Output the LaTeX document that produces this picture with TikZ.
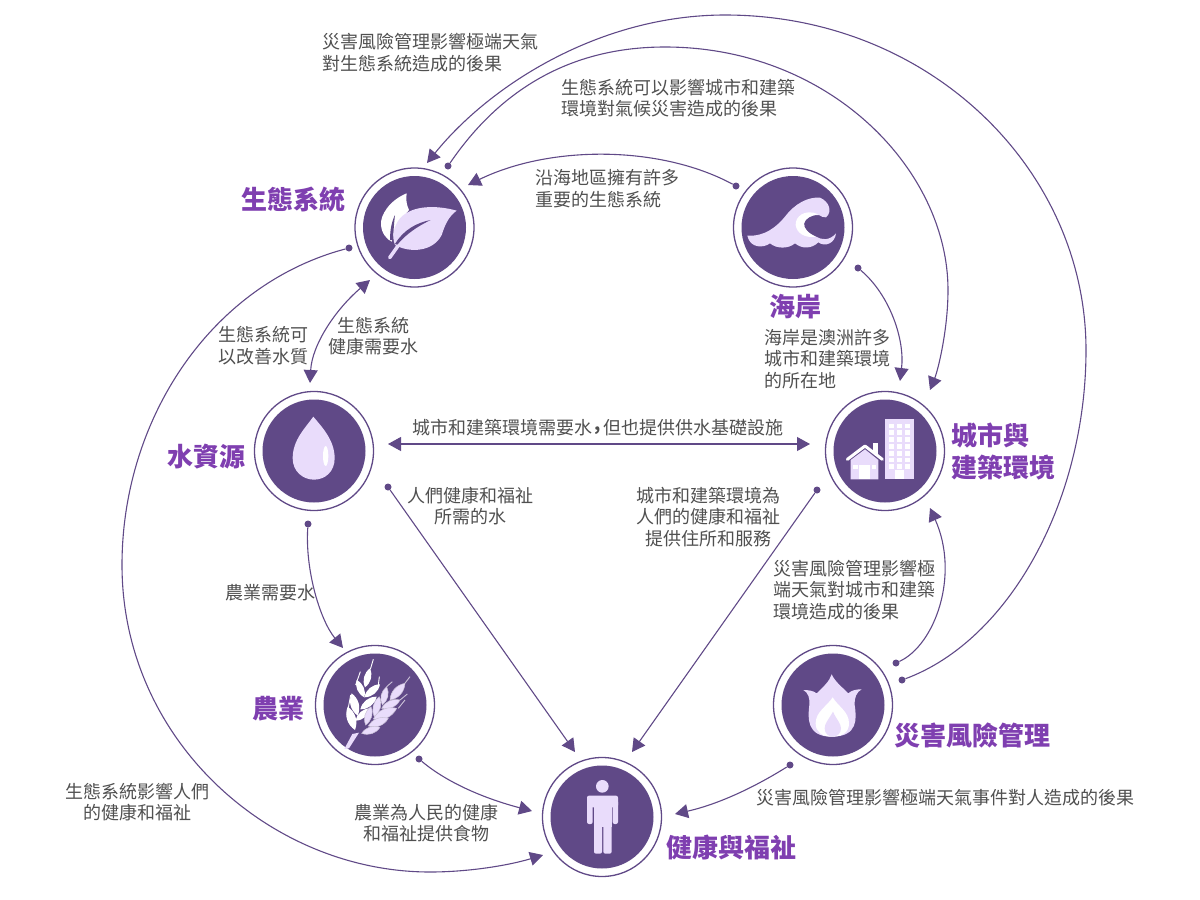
\documentclass[tikz,border=0pt]{standalone}
\usepackage{fontspec}
\setmainfont{Noto Sans CJK TC}
\usetikzlibrary{arrows.meta}

\definecolor{plum}{HTML}{604987}
\definecolor{pale}{HTML}{E9DCFB}
\definecolor{titlec}{HTML}{7F3FB0}
\definecolor{textc}{HTML}{505050}

\tikzset{
main node/.style={circle,draw=plum,line width=1.3pt,fill=white,inner sep=0pt,minimum size=119pt,
	path picture={\fill[plum] (path picture bounding box.center) circle (51.5pt);}},
dot node/.style={circle,fill=plum,inner sep=0pt,minimum size=7pt},
link/.style={draw=plum,line width=1.1pt,-{Triangle[length=13pt,width=14pt]}},
both link/.style={draw=plum,line width=1.1pt,{Triangle[length=13pt,width=14pt]}-{Triangle[length=13pt,width=14pt]}},
note/.style={text=textc,font=\fontsize{18}{21.7}\selectfont,inner sep=0pt},
title/.style={text=titlec,font=\fontsize{26}{32}\selectfont\bfseries,inner sep=0pt},
icon/.style={shift={#1},scale=1/3},
}

\begin{document}
\begin{tikzpicture}[x=1pt,y=-1pt]
\useasboundingbox (0,0) rectangle (1200,900);

% main circles
\node[main node] (eco) at (414.5,227.5) {};
\node[main node] (coast) at (793,227.5) {};
\node[main node] (water) at (314,451) {};
\node[main node] (city) at (885,451) {};
\node[main node] (farm) at (375,705) {};
\node[main node] (risk) at (833,705) {};
\node[main node] (health) at (602,817) {};

% leaf
\begin{scope}[icon={(340,150)}]
\fill[white] (200,130) .. controls (150,150) and (120,195) .. (123,225) .. controls (125,250) and (140,268) .. (155,275) .. controls (165,240) and (185,205) .. (207,180) .. controls (200,165) and (197,150) .. (200,130);
\fill[plum] (150,270) .. controls (150,240) and (155,215) .. (165,195) .. controls (162,220) and (160,245) .. (160,270);
\fill[pale] (350,182) .. controls (290,165) and (215,165) .. (180,205) .. controls (160,230) and (155,260) .. (165,285) .. controls (210,310) and (280,305) .. (305,255) .. controls (315,225) and (325,200) .. (350,182);
\draw[pale,line width=3.5pt,line cap=round] (149,323) -- (185,272);
\fill[plum] (165,282) .. controls (190,240) and (230,218) .. (272,210) .. controls (235,228) and (200,250) .. (172,284);
\end{scope}

% wave
\begin{scope}[icon={(740,185)}]
\fill[pale] (22,152) .. controls (75,155) and (110,125) .. (135,95) .. controls (165,55) and (205,35) .. (240,38) .. controls (268,50) and (278,80) .. (258,97) .. controls (250,100) and (243,92) .. (237,90) .. controls (215,88) and (195,100) .. (192,115) .. controls (190,130) and (205,148) .. (228,155) .. controls (245,165) and (268,168) .. (288,145) .. controls (285,175) and (255,187) .. (235,172) .. controls (215,192) and (185,192) .. (165,175) .. controls (145,192) and (110,192) .. (90,175) .. controls (70,190) and (30,190) .. (22,152);
\fill[white] (235,88) .. controls (195,70) and (165,95) .. (167,120) .. controls (170,145) and (195,160) .. (228,155) .. controls (205,145) and (190,130) .. (192,115) .. controls (195,100) and (215,90) .. (235,88);
\end{scope}

% drop
\begin{scope}[icon={(240,380)}]
\fill[pale] (220,110) .. controls (195,145) and (158,180) .. (158,235) .. controls (158,275) and (190,299) .. (222,299) .. controls (255,299) and (284,275) .. (284,235) .. controls (284,180) and (245,140) .. (220,110);
\fill[white] (257,228) ellipse (8 and 30);
\end{scope}

% buildings
\begin{scope}[icon={(815,380)}]
\fill[pale] (210,117) rectangle (297,298);
\foreach \x in {221,245,269} \foreach \y in {131,151,171,192,213,233,253}
	\fill[white] (\x,\y) rectangle +(16,14);
\fill[white] (240,270) rectangle (268,298);
\fill[pale] (107,240) -- (150,208) -- (190,240) -- (190,298) -- (107,298) -- cycle;
\fill[white] (174,190) rectangle (188,222);
\draw[white,line width=3pt,line join=round,line cap=round] (97,238) -- (150,198) -- (202,238);
\fill[white] (132,255) rectangle (165,298);
\fill[white] (115,254) rectangle (128,266);
\fill[white] (170,254) rectangle (183,266);
\end{scope}

% wheat
\begin{scope}[icon={(335,650)}]
\draw[white,line width=.9pt] (115,28) -- (106,58) (76,65) -- (62,105) (133,80) -- (130,105) (47,135) -- (36,195);
\foreach \xa/\ya/\xb/\yb in {105/55/90/112, 65/90/88/142, 135/103/88/142, 50/130/68/197, 125/140/76/178, 38/170/60/240, 105/175/62/212}
	\fill[white] (\xa,\ya) to[bend left=38] (\xb,\yb) to[bend left=38] (\xa,\ya);
\fill[pale] (28,297) -- (52,252) -- (72,248) -- (42,295) -- cycle;
\draw[pale!70!gray,line width=.9pt] (225,80) -- (208,102) (172,95) -- (155,110) (217,132) -- (195,150) (190,175) -- (210,150);
\foreach \xa/\ya/\xb/\yb in {210/100/165/150, 155/110/142/165, 133/140/118/200, 108/170/92/225, 195/150/140/175, 185/175/115/207, 160/205/100/228, 135/232/80/250}
	\filldraw[fill=pale,draw=pale!70!gray,line width=.5pt] (\xa,\ya) to[bend left=38] (\xb,\yb) to[bend left=38] (\xa,\ya);
\end{scope}

% flame
\begin{scope}[icon={(760,640)}]
\fill[pale] (215,103) .. controls (225,125) and (245,140) .. (265,160) .. controls (275,150) and (290,148) .. (305,148) .. controls (290,155) and (282,175) .. (284,195) .. controls (290,235) and (295,290) .. (215,290) .. controls (140,290) and (143,235) .. (148,195) .. controls (150,175) and (145,158) .. (130,150) .. controls (145,150) and (160,152) .. (170,160) .. controls (190,140) and (208,125) .. (215,103);
\fill[white] (218,172) .. controls (200,200) and (167,215) .. (167,250) .. controls (167,275) and (185,290) .. (215,290) .. controls (250,290) and (267,275) .. (267,250) .. controls (267,215) and (235,200) .. (218,172);
\fill[pale] (219,215) .. controls (205,240) and (194,250) .. (194,265) .. controls (194,280) and (205,290) .. (218,290) .. controls (232,290) and (243,280) .. (243,265) .. controls (243,250) and (230,240) .. (219,215);
\end{scope}

% person
\begin{scope}[icon={(530,750)}]
\fill[pale] (217,109) circle (19);
\begin{scope}[rounded corners=2pt]
\fill[pale] (171,137) rectangle (264,172);
\fill[pale] (171,150) rectangle (188,222);
\fill[pale] (248,150) rectangle (264,222);
\fill[pale] (192,200) rectangle (216,311);
\fill[pale] (220,200) rectangle (245,311);
\end{scope}
\fill[pale] (192,150) rectangle (245,232);
\end{scope}

% connector ends
\node[dot node] (riskA) at (902,680) {};
\node[dot node] (riskB) at (896,663) {};
\node[dot node] (riskC) at (790,765) {};
\node[dot node] (ecoA) at (448,166) {};
\node[dot node] (ecoB) at (349,248) {};
\node[dot node] (coastA) at (736,186) {};
\node[dot node] (coastB) at (858,268) {};
\node[dot node] (waterA) at (388,487) {};
\node[dot node] (waterB) at (308,524) {};
\node[dot node] (cityA) at (817,490) {};
\node[dot node] (farmA) at (419,759) {};
\coordinate (ecoIn1) at (427,163);
\coordinate (ecoIn2) at (468,185);
\coordinate (ecoIn3) at (370,280);
\coordinate (waterIn1) at (310,383);
\coordinate (waterIn2) at (388,444);
\coordinate (cityIn1) at (930,390);
\coordinate (cityIn2) at (900,381);
\coordinate (cityIn3) at (810,444);
\coordinate (cityIn4) at (930,508);
\coordinate (farmIn) at (343,648);
\coordinate (healthIn1) at (575,752);
\coordinate (healthIn2) at (632,752);
\coordinate (healthIn3) at (532,811);
\coordinate (healthIn4) at (675,814);
\coordinate (healthIn5) at (543,855);

% connectors
\draw[link] (riskA) .. controls (1010,640) and (1086,500) .. (1086,350) .. controls (1086,170) and (930,15) .. (725,15) .. controls (600,15) and (490,85) .. (ecoIn1);
\draw[link] (ecoA) .. controls (500,90) and (570,47) .. (665,47) .. controls (830,47) and (948,170) .. (948,290) .. controls (948,330) and (938,370) .. (cityIn1);
\draw[link] (coastA) .. controls (660,145) and (550,145) .. (ecoIn2);
\draw[link] (coastB) .. controls (890,295) and (905,340) .. (cityIn2);
\draw[link] (ecoB) .. controls (210,285) and (122,420) .. (122,565) .. controls (122,740) and (270,872) .. (430,872) .. controls (470,872) and (510,865) .. (healthIn5);
\draw[both link] (ecoIn3) .. controls (335,310) and (312,345) .. (waterIn1);
\draw[both link] (waterIn2) -- (cityIn3);
\draw[link] (waterA) -- (healthIn1);
\draw[link] (cityA) -- (healthIn2);
\draw[link] (waterB) .. controls (305,570) and (320,620) .. (farmIn);
\draw[link] (farmA) .. controls (450,785) and (490,800) .. (healthIn3);
\draw[link] (riskC) .. controls (750,790) and (715,805) .. (healthIn4);
\draw[link] (riskB) .. controls (935,645) and (960,575) .. (cityIn4);

% titles
\node[title] (ecoT) at (293,200) {生態系統};
\node[title] (coastT) at (795,307) {海岸};
\node[title] (waterT) at (206,457) {水資源};
\node[title,anchor=west,align=left] (cityT) at (951,451) {城市與\\建築環境};
\node[title] (farmT) at (278,709) {農業};
\node[title] (riskT) at (972,735) {災害風險管理};
\node[title] (healthT) at (731,848) {健康與福祉};

% labels
\node[note,anchor=west,align=left] (n1) at (322,52.5) {災害風險管理影響極端天氣\\對生態系統造成的後果};
\node[note,anchor=west,align=left] (n2) at (561,98) {生態系統可以影響城市和建築\\環境對氣候災害造成的後果};
\node[note,anchor=west,align=left] (n3) at (535,189) {沿海地區擁有許多\\重要的生態系統};
\node[note,anchor=west,align=left] (n4) at (764,359) {海岸是澳洲許多\\城市和建築環境\\的所在地};
\node[note,anchor=west,align=left] (n5) at (218,346) {生態系統可\\以改善水質};
\node[note,align=center] (n6) at (373,336) {生態系統\\健康需要水};
\node[note] (n7) at (598,428) {城市和建築環境需要水\hspace{2.5pt}\raisebox{4pt}{\bfseries ,}\hspace{2.5pt}但也提供供水基礎設施};
\node[note,align=center] (n8) at (470,506) {人們健康和福祉\\所需的水};
\node[note,align=center] (n9) at (708,517) {城市和建築環境為\\人們的健康和福祉\\提供住所和服務};
\node[note] (n10) at (270,593) {農業需要水};
\node[note,anchor=west,align=left] (n11) at (773,590) {災害風險管理影響極\\端天氣對城市和建築\\環境造成的後果};
\node[note,align=center] (n12) at (137,802) {生態系統影響人們\\的健康和福祉};
\node[note,align=center] (n13) at (426,823) {農業為人民的健康\\和福祉提供食物};
\node[note] (n14) at (945.5,798) {災害風險管理影響極端天氣事件對人造成的後果};

\end{tikzpicture}
\end{document}
